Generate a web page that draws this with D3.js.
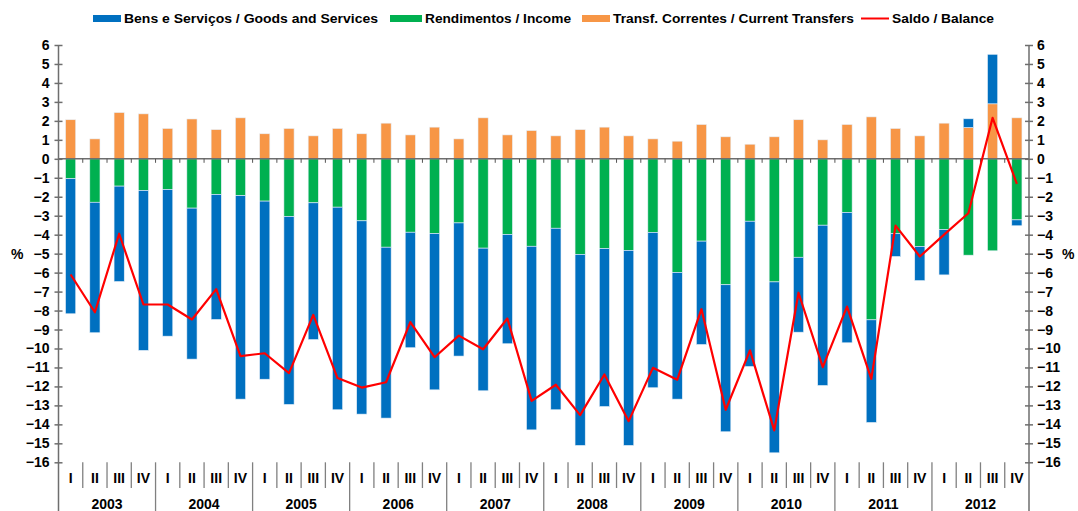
<!DOCTYPE html>
<head>
  <meta charset="utf-8" />
  <script src="https://d3js.org/d3.v7.min.js"></script>
  <style>
    body {
      margin: 0;
      background: #fff;
    }
    text {
      font-family: "Liberation Sans", Arial, sans-serif;
      font-weight: bold;
      fill: #000;
    }
  </style>
</head>

<body>
<div id="chart"></div>

<script>

// quarters 2003 I .. 2012 IV
var years = ["2003","2004","2005","2006","2007","2008","2009","2010","2011","2012"];
var quarterNames = ["I","II","III","IV"];

// % of GDP
var goods = [-7.12,-6.88,-5.03,-8.43, -7.73,-7.96,-6.59,-10.73, -9.39,-9.91,-7.21,-10.68,
             -10.19,-9.01,-6.09,-8.24, -7.02,-7.52,-5.76,-9.68, -9.57,-10.07,-8.33,-10.28,
             -8.19,-6.68,-5.45,-7.75, -7.66,-9.01,-3.95,-8.45, -6.87,-5.41,-1.20,-1.80,
             -2.39,0.46,2.61,-0.31];
var income = [-1.05,-2.29,-1.44,-1.67, -1.62,-2.60,-1.88,-1.94, -2.23,-3.04,-2.32,-2.55,
              -3.27,-4.66,-3.87,-3.94, -3.38,-4.71,-3.99,-4.61, -3.66,-5.04,-4.73,-4.83,
              -3.88,-5.99,-4.34,-6.64, -3.29,-6.49,-5.19,-3.50, -2.83,-8.49,-3.95,-4.62,
              -3.73,-5.08,-4.85,-3.22];
var transfers = [2.06,1.05,2.44,2.37, 1.60,2.10,1.54,2.16, 1.32,1.60,1.21,1.60,
                 1.32,1.88,1.26,1.67, 1.05,2.16,1.26,1.49, 1.21,1.54,1.67,1.21,
                 1.05,0.93,1.81,1.16, 0.77,1.16,2.06,1.00, 1.81,2.21,1.60,1.21,
                 1.88,1.65,2.90,2.16];
var balance = [-6.10,-8.09,-3.95,-7.68, -7.68,-8.47,-6.87,-10.40, -10.25,-11.30,-8.23,-11.56,
               -12.06,-11.78,-8.61,-10.46, -9.32,-10.04,-8.42,-12.76, -11.91,-13.51,-11.37,-13.83,
               -11.02,-11.65,-7.93,-13.23, -10.10,-14.32,-7.06,-10.98, -7.79,-11.60,-3.52,-5.15,
               -4.00,-2.87,2.16,-1.32];
var yTicks = d3.range(-16, 7, 1);

var seriesNames = {
  goods: "Bens e Serviços / Goods and Services",
  income: "Rendimentos / Income",
  transfers: "Transf. Correntes / Current Transfers",
  balance: "Saldo / Balance"
};

var color = {goods: "#0070C0", income: "#00B050", transfers: "#F79646", balance: "#FF0000"};

var width = 1078, height = 511;
var plot = {left: 58.5, right: 1029, top: 45, bottom: 462.3};

var svg = d3.select("#chart")
  .append("svg")
  .attr("width", width)
  .attr("height", height);

// build table
var data = goods.map(function(g, i) {
  return {
    key: i,
    quarter: quarterNames[i % 4],
    year: years[Math.floor(i / 4)],
    goods: g,
    income: income[i],
    transfers: transfers[i],
    balance: balance[i]
  };
});

var x = d3.scaleBand()
  .domain(data.map(function(d) { return d.key; }))
  .range([plot.left, plot.right])
  .paddingInner(0.58)
  .paddingOuter(0.29);

var y = d3.scaleLinear()
  .domain([-16, 6])
  .range([plot.bottom, plot.top]);

// stacking order as drawn: transfers nearest zero on the positive side, income then goods below
var stacked = d3.stack()
  .keys(["transfers", "income", "goods"])
  .offset(d3.stackOffsetDiverging)(data);

svg.append("g")
  .selectAll("g")
  .data(stacked)
  .enter().append("g")
    .attr("fill", function(d) { return color[d.key]; })
    .selectAll("rect")
    .data(function(d) { return d; })
    .enter().append("rect")
      .attr("x", function(d) { return x(d.data.key); })
      .attr("y", function(d) { return y(Math.max(d[0], d[1])); })
      .attr("width", x.bandwidth())
      .attr("height", function(d) { return Math.abs(y(d[0]) - y(d[1])); })
      .attr("stroke", "#e8f0f8")
      .attr("stroke-width", 0.6);

// zero line with small category ticks
var step = x.step();
svg.append("line")
  .attr("x1", plot.left).attr("x2", plot.right)
  .attr("y1", y(0)).attr("y2", y(0))
  .attr("stroke", "#6e6e6e").attr("stroke-width", 1.6);

svg.append("g")
  .selectAll("line")
  .data(d3.range(1, data.length))
  .enter().append("line")
    .attr("x1", function(k) { return plot.left + k * step; })
    .attr("x2", function(k) { return plot.left + k * step; })
    .attr("y1", y(0)).attr("y2", y(0) + 4)
    .attr("stroke", "#555").attr("stroke-width", 1);

// balance line
var line = d3.line()
  .x(function(d) { return x(d.key) + x.bandwidth() / 2; })
  .y(function(d) { return y(d.balance); });

svg.append("path")
  .datum(data)
  .attr("d", line)
  .attr("fill", "none")
  .attr("stroke", color.balance)
  .attr("stroke-width", 2.2)
  .attr("stroke-linejoin", "round");

// y axes, left and right
var leftAxis = svg.append("g")
  .attr("transform", "translate(" + plot.left + ",0)")
  .call(d3.axisLeft(y).tickValues(yTicks).tickSize(4).tickFormat(d3.format("d")));
var rightAxis = svg.append("g")
  .attr("transform", "translate(" + plot.right + ",0)")
  .call(d3.axisRight(y).tickValues(yTicks).tickSize(4).tickFormat(d3.format("d")));

[leftAxis, rightAxis].forEach(function(ax) {
  ax.select(".domain").remove();
  ax.selectAll(".tick line")
    .attr("x1", -4).attr("x2", 4)
    .attr("stroke", "#6e6e6e").attr("stroke-width", 1.5);
  ax.selectAll(".tick text")
    .style("font-size", "14px")
    .style("font-weight", "bold");
});
leftAxis.selectAll(".tick text").attr("x", -9);
rightAxis.selectAll(".tick text").attr("x", 8);

svg.append("line")
  .attr("x1", plot.left).attr("x2", plot.left)
  .attr("y1", plot.top).attr("y2", height)
  .attr("stroke", "#6e6e6e").attr("stroke-width", 1.5);
svg.append("line")
  .attr("x1", plot.right).attr("x2", plot.right)
  .attr("y1", plot.top).attr("y2", height)
  .attr("stroke", "#6e6e6e").attr("stroke-width", 1.5);

svg.append("text")
  .attr("x", 11).attr("y", y(-5) + 5)
  .style("font-size", "14px")
  .text("%");
svg.append("text")
  .attr("x", 1062).attr("y", y(-5) + 5)
  .style("font-size", "14px")
  .text("%");

// category axis: quarter labels and separators
var cat = svg.append("g");
cat.selectAll("text.q")
  .data(data)
  .enter().append("text")
    .attr("class", "q")
    .attr("x", function(d) { return x(d.key) + x.bandwidth() / 2; })
    .attr("y", 483)
    .attr("text-anchor", "middle")
    .style("font-size", "14px")
    .text(function(d) { return d.quarter; });

cat.selectAll("line.sep")
  .data(d3.range(1, data.length))
  .enter().append("line")
    .attr("class", "sep")
    .attr("x1", function(k) { return plot.left + k * step; })
    .attr("x2", function(k) { return plot.left + k * step; })
    .attr("y1", plot.bottom)
    .attr("y2", function(k) { return k % 4 === 0 ? height : 488; })
    .attr("stroke", "#808080").attr("stroke-width", 1.3);

cat.selectAll("text.yr")
  .data(years)
  .enter().append("text")
    .attr("class", "yr")
    .attr("x", function(d, i) { return plot.left + (i * 4 + 2) * step; })
    .attr("y", 509)
    .attr("text-anchor", "middle")
    .style("font-size", "14px")
    .text(function(d) { return d; });

// legend (swatch position, swatch width, text width)
var legendItems = [
  {key: "goods", x: 93, w: 28, tw: 254},
  {key: "income", x: 390, w: 32, tw: 146},
  {key: "transfers", x: 582, w: 28, tw: 241},
  {key: "balance", x: 861, w: 28, tw: 102}
];
var legend = svg.append("g");
legendItems.forEach(function(it) {
  if (it.key === "balance") {
    legend.append("line")
      .attr("x1", it.x).attr("x2", it.x + it.w)
      .attr("y1", 18.5).attr("y2", 18.5)
      .attr("stroke", color.balance).attr("stroke-width", 2);
  } else {
    legend.append("rect")
      .attr("x", it.x).attr("y", 15)
      .attr("width", it.w).attr("height", 7)
      .attr("fill", color[it.key]);
  }
  legend.append("text")
    .attr("x", it.x + it.w + 3)
    .attr("y", 23)
    .attr("textLength", it.tw)
    .attr("lengthAdjust", "spacingAndGlyphs")
    .style("font-size", "13px")
    .text(seriesNames[it.key]);
});

</script>
</body>
</html>
